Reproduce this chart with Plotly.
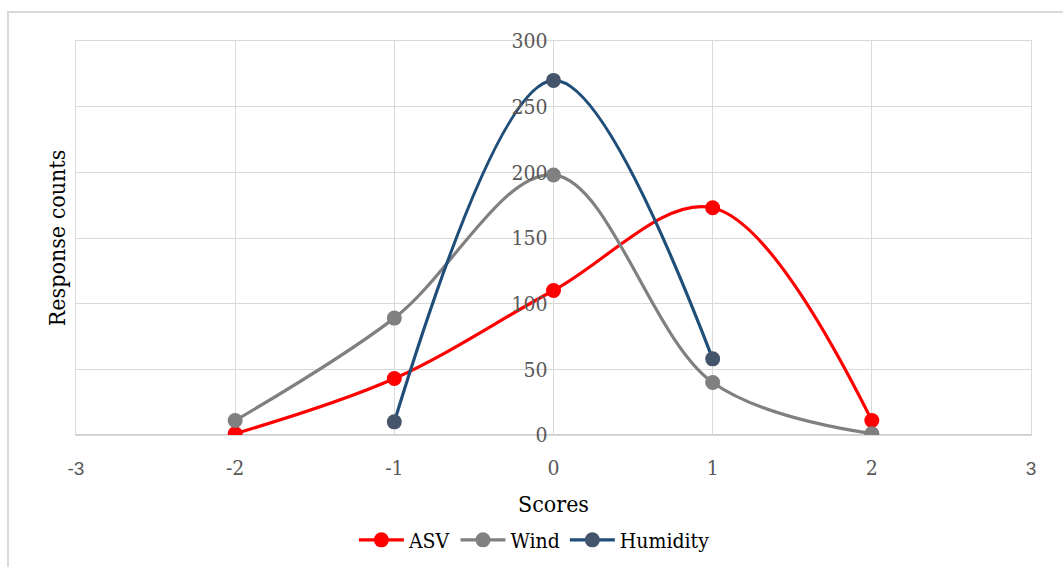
import plotly.graph_objects as go

scores = [-2, -1, 0, 1, 2]
asv = [1, 43, 110, 173, 11]
wind = [11, 89, 198, 40, 1]
hum_scores = [-1, 0, 1]
humidity = [10, 270, 58]

x_ticks = [-3, -2, -1, 0, 1, 2, 3]
y_ticks = [0, 50, 100, 150, 200, 250, 300]

SERIF = "DejaVu Serif Condensed, Liberation Serif, serif"
SANS = "Liberation Sans, Arial, sans-serif"

def xlab(v):
    if abs(v) == 3:
        return f'<span style="font-family:{SANS};font-size:19px">{v}</span>'
    return str(v)

fig = go.Figure()
fig.add_trace(go.Scatter(x=scores, y=asv, name="ASV", mode="lines+markers",
                         line=dict(color="#FF0000", width=3.2, shape="spline", smoothing=1),
                         marker=dict(color="#FF0000", size=15)))
fig.add_trace(go.Scatter(x=scores, y=wind, name="Wind", mode="lines+markers",
                         line=dict(color="#808080", width=3.2, shape="spline", smoothing=1),
                         marker=dict(color="#808080", size=15)))
fig.add_trace(go.Scatter(x=hum_scores, y=humidity, name="Humidity", mode="lines+markers",
                         line=dict(color="#1F4E79", width=3.2, shape="spline", smoothing=1),
                         marker=dict(color="#44546A", size=15)))

W, H = 1063, 567
ml, mr, mt, mb = 76, 32, 41, 132
pw = W - ml - mr
ph = H - mt - mb

fig.update_layout(
    width=W, height=H,
    margin=dict(l=ml, r=mr, t=mt, b=mb, autoexpand=False),
    paper_bgcolor="white", plot_bgcolor="white",
    showlegend=True,
    legend=dict(orientation="h", x=0.48, xanchor="center", y=-0.215, yanchor="top",
                font=dict(family=SERIF, size=21, color="#000000"),
                itemwidth=45, tracegroupgap=0),
    xaxis=dict(range=[-3, 3], tickvals=x_ticks, ticktext=[xlab(v) for v in x_ticks],
               showgrid=True, gridcolor="#D9D9D9", gridwidth=1, automargin=False,
               zeroline=False, showline=True, linecolor="#D9D9D9", mirror=True,
               ticks="", ticklabelstandoff=14,
               tickfont=dict(family=SERIF, size=21, color="#595959"),
               title=dict(text="Scores", font=dict(family=SERIF, size=23, color="#000000"),
                          standoff=16)),
    yaxis=dict(range=[0, 300], tickvals=y_ticks, showticklabels=False, automargin=False,
               showgrid=True, gridcolor="#D9D9D9", gridwidth=1,
               zeroline=False, showline=True, linecolor="#D9D9D9", mirror=True, ticks="",
               title=dict(text="Response counts", font=dict(family=SERIF, size=23, color="#000000"),
                          standoff=2)),
    yaxis2=dict(overlaying="y", matches="y", anchor="free", position=0.5, side="left",
                range=[0, 300], tickvals=y_ticks, showgrid=False, zeroline=False,
                showline=False, ticks="", ticklabelstandoff=6, automargin=False,
                tickfont=dict(family=SERIF, size=21, color="#595959")),
    shapes=[
        dict(type="line", xref="paper", yref="y", x0=0, x1=1, y0=0, y1=0,
             line=dict(color="#BFBFBF", width=1.5), layer="below"),
        dict(type="rect", xref="paper", yref="paper",
             x0=(8 - ml) / pw, x1=(W + 20 - ml) / pw,
             y0=-(H + 20 - mt - ph) / ph, y1=(ph + mt - 12) / ph,
             line=dict(color="#D9D9D9", width=2), fillcolor="rgba(0,0,0,0)"),
    ],
)
fig.add_trace(go.Scatter(x=[0], y=[0], yaxis="y2", showlegend=False, hoverinfo="skip",
                         mode="markers", marker=dict(opacity=0)))
fig.write_html("out.html")
